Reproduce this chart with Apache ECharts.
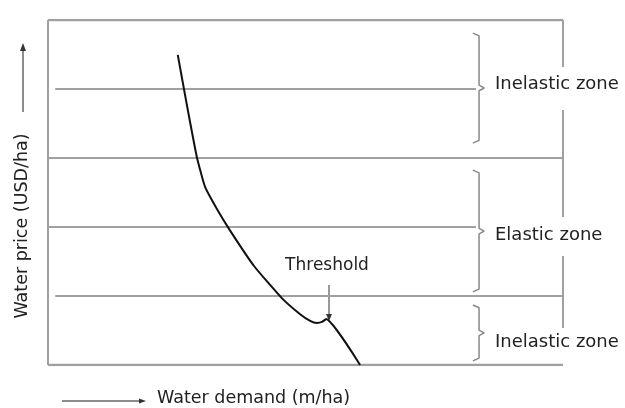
<!DOCTYPE html>
<html>
<head>
<meta charset="utf-8">
<script src="https://cdn.jsdelivr.net/npm/echarts@6/dist/echarts.min.js"></script>
<style>html,body{margin:0;padding:0;background:#fff}#c{width:625px;height:408px}</style>
</head>
<body>
<div id="c"></div>
<script>
// Demand curve (x: water demand, y: water price), 0-100 scale
const demandX = [25.2, 27.0, 28.9, 30.5, 32.8, 35.3, 40.0, 45.4, 48.9, 50.9, 52.2, 53.2, 54.0, 60.6];
const priceY  = [89.9, 75.1, 60.3, 51.6, 45.2, 39.1, 28.7, 19.4, 14.8, 12.8, 12.2, 12.5, 13.3, 0.0];

// Horizontal reference levels and their extents along x
const levels    = [0, 20, 40, 60, 80, 100];
const levelFrom = [0, 1.4, 0, 0, 1.4, 0];
const levelTo   = [100, 100, 83.1, 100, 83.1, 100];

// Right frame edge pieces (y ranges)
const rightEdge = [[86.4, 100], [42.9, 73.9], [10.7, 31.6]];

// Zones: [low, high, middle] of price, and labels
const zones = [[64.3, 96.2, 80.3], [21.2, 56.5, 38.8], [1.2, 17.4, 9.3]];
const zoneNames = ['Inelastic zone', 'Elastic zone', 'Inelastic zone'];

const gray = '#a0a0a0';
const series = [];
levels.forEach((v, i) => {
  series.push({type: 'line', data: [[levelFrom[i], v], [levelTo[i], v]], symbol: 'none', silent: true,
    lineStyle: {color: gray, width: (v === 100 || v === 0) ? 2.5 : 2}});
});
series.push({type: 'line', data: [[0, 0], [0, 100]], symbol: 'none', lineStyle: {color: gray, width: 2}});
rightEdge.forEach(r => {
  series.push({type: 'line', data: [[100, r[0]], [100, r[1]]], symbol: 'none', lineStyle: {color: gray, width: 2}});
});
const bx = 83.7, bl = 82.5, bm = 84.7;
zones.forEach(z => {
  const [lo, hi, mid] = z;
  series.push({type: 'line', symbol: 'none', lineStyle: {color: '#888', width: 1.5},
    data: [[bl, hi], [bx, hi - 0.8], [bx, mid + 0.8], [bm, mid], [bx, mid - 0.8], [bx, lo + 0.8], [bl, lo]]});
});
series.push({type: 'line', symbol: 'none', smooth: 0.15,
  data: demandX.map((x, i) => [x, priceY[i]]),
  lineStyle: {color: '#111', width: 2}, z: 5});

const chart = echarts.init(document.getElementById('c'), null, {renderer: 'canvas'});
const font = '"DejaVu Sans", Verdana, sans-serif';
const txt = '#222';
const zoneLabelY = [84, 235, 342];
chart.setOption({
  animation: false,
  grid: {left: 48, right: 62, top: 20, bottom: 43},
  xAxis: {type: 'value', min: 0, max: 100, show: false},
  yAxis: {type: 'value', min: 0, max: 100, show: false},
  series: series,
  graphic: [
    ...zoneNames.map((n, i) => ({type: 'text', x: 495, y: zoneLabelY[i],
      style: {text: n, font: '18px ' + font, fill: txt, textVerticalAlign: 'middle'}})),
    {type: 'text', x: 327, y: 266, style: {text: 'Threshold', font: '17px ' + font, fill: txt, textAlign: 'center', textVerticalAlign: 'middle'}},
    {type: 'line', shape: {x1: 329, y1: 285, x2: 329, y2: 316}, style: {stroke: '#333', lineWidth: 1}},
    {type: 'polygon', shape: {points: [[326, 314], [332, 314], [329, 321]]}, style: {fill: '#333'}},
    {type: 'text', x: 22, y: 226, rotation: Math.PI / 2,
      style: {text: 'Water price (USD/ha)', font: '17.5px ' + font, fill: txt, textAlign: 'center', textVerticalAlign: 'middle'}},
    {type: 'line', shape: {x1: 23, y1: 112, x2: 23, y2: 50}, style: {stroke: '#666', lineWidth: 1.5}},
    {type: 'polygon', shape: {points: [[20, 51], [26, 51], [23, 43]]}, style: {fill: '#333'}},
    {type: 'line', shape: {x1: 62, y1: 401, x2: 140, y2: 401}, style: {stroke: '#666', lineWidth: 1.5}},
    {type: 'polygon', shape: {points: [[139, 398.5], [139, 403.5], [146, 401]]}, style: {fill: '#333'}},
    {type: 'text', x: 157, y: 398, style: {text: 'Water demand (m/ha)', font: '17.5px ' + font, fill: txt, textVerticalAlign: 'middle'}}
  ]
});
</script>
</body>
</html>
